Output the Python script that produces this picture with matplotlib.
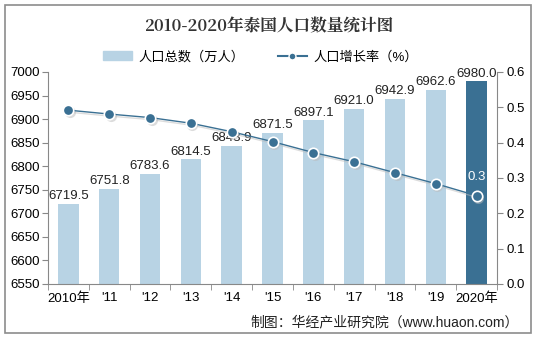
import matplotlib.pyplot as plt
from matplotlib.patches import Rectangle, Patch
from matplotlib.lines import Line2D
import numpy as np

plt.rcParams['font.family'] = ['Liberation Sans', 'Noto Sans CJK SC']

years = ['2010年', "'11", "'12", "'13", "'14", "'15", "'16", "'17", "'18", "'19", '2020年']
population = [6719.5, 6751.8, 6783.6, 6814.5, 6843.9, 6871.5, 6897.1, 6921.0, 6942.9, 6962.6, 6980.0]
growth = [0.492, 0.481, 0.471, 0.455, 0.431, 0.403, 0.372, 0.346, 0.315, 0.284, 0.25]

light = '#b8d3e4'
dark = '#3a7093'

fig = plt.figure(figsize=(5.37, 3.38), dpi=100)
fig.patches.append(Rectangle((5 / 537, 5 / 338), 526 / 537, 328 / 338, transform=fig.transFigure,
                             fill=False, edgecolor='#8c8c8c', linewidth=1.2))

ax = fig.add_axes([48 / 537, 1 - 284 / 338, 449 / 537, 212 / 338])
x = np.arange(len(years))
colors = [light] * (len(years) - 1) + [dark]
ax.bar(x, np.array(population) - 6550, bottom=6550, width=0.5, color=colors, zorder=2)
for xi, v in zip(x, population):
    ax.text(xi, v + 4, f'{v:.1f}', ha='center', va='bottom', fontsize=9.5, color='#222222', zorder=5)

ax.set_ylim(6550, 7000)
ax.set_yticks(np.arange(6550, 7001, 50))
ax.set_xlim(-0.5, len(years) - 0.5)
ax.set_xticks(x)
ax.set_xticklabels(years, fontsize=9.5)
ax.set_xticks(np.arange(-0.5, len(years), 1), minor=True)
ax.tick_params(axis='x', which='major', length=0, pad=6)
ax.tick_params(axis='x', which='minor', length=4, color='#888888')
ax.tick_params(axis='y', labelsize=9.5, length=4, color='#888888', pad=2)
for s in ['top', 'right']:
    ax.spines[s].set_visible(False)
for s in ['left', 'bottom']:
    ax.spines[s].set_color('#888888')

ax2 = ax.twinx()
ax2.plot(x + 0.04, np.array(growth) - 0.006, color='#bbbbbb', linewidth=1, alpha=0.5,
         marker='o', markersize=8, markeredgewidth=0, zorder=2)
ax2.plot(x, growth, color=dark, linewidth=1, marker='o', markersize=7.5,
         markerfacecolor=dark, markeredgecolor='white', markeredgewidth=1.2, zorder=3)
ax2.text(x[-1], growth[-1] + 0.035, '0.3', ha='center', va='bottom', fontsize=9.5, color='white')
ax2.set_ylim(0, 0.6)
ticks = np.arange(0, 0.61, 0.1)
ax2.set_yticks(ticks)
ax2.set_yticklabels([f'{t:.1f}' for t in ticks])
ax2.tick_params(axis='y', labelsize=9.5, length=4, color='#888888', pad=3)
for s in ['top', 'left', 'bottom']:
    ax2.spines[s].set_visible(False)
ax2.spines['right'].set_color('#888888')

handles = [Patch(color=light),
           Line2D([0], [0], color=dark, marker='o', markersize=5, markeredgecolor='white')]
fig.legend(handles, ['人口总数（万人）', '人口增长率（%）'], loc='center', ncol=2,
           bbox_to_anchor=(0.485, 1 - 57 / 338), frameon=False, fontsize=9.5,
           handlelength=2.2, handletextpad=0.5, columnspacing=2.5)

fig.text(0.5, 1 - 27 / 338, '2010-2020年泰国人口数量统计图', ha='center', va='center',
         fontsize=12, fontweight='bold', family=['Noto Serif CJK SC', 'Noto Sans CJK SC'], color='#333333')
fig.text(519 / 537, 1 - 322 / 338, '制图：华经产业研究院（www.huaon.com）', ha='right', va='center',
         fontsize=10, color='#222222')

fig.savefig('out.png', dpi=100)
